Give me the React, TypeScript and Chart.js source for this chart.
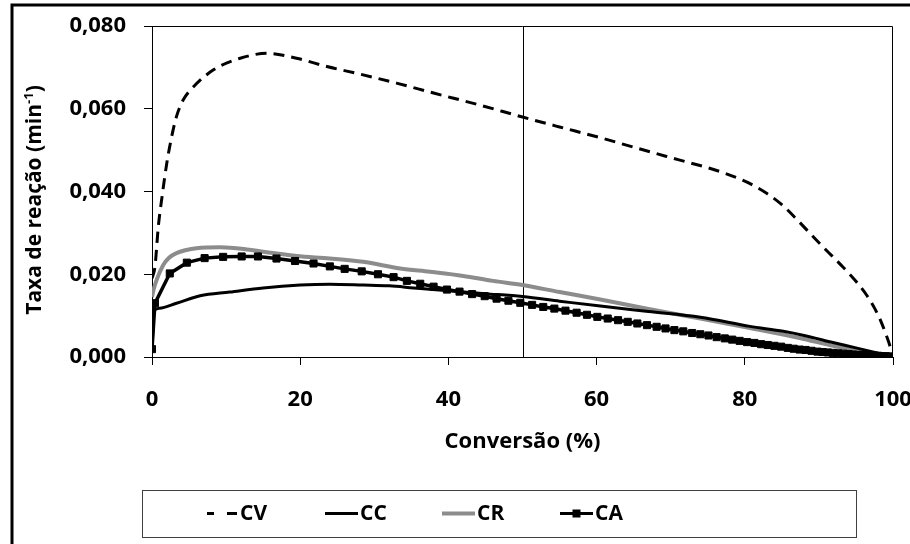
import React, { useEffect, useRef } from "react";
import { Chart, registerables } from "chart.js";

Chart.register(...registerables);

const FONT = "'Open Sans', Lato, sans-serif";

// Taxa de reação vs conversão for the four samples
const cvConv = [0, 0.4, 0.85, 1.3, 2.0, 2.65, 3.3, 4.2, 5.6, 8.3, 11.9, 15.5, 19.5, 23.6, 28, 33, 38, 44, 50, 55, 60.5, 66, 71, 76, 80, 83, 85, 87, 89, 91, 93, 95, 96.5, 97.6, 98.4, 99.1, 99.6, 100];
const cvRate = [0.019, 0.0218, 0.0315, 0.038, 0.0469, 0.0532, 0.0581, 0.0621, 0.0653, 0.0694, 0.0722, 0.0734, 0.0722, 0.0702, 0.0684, 0.0662, 0.0638, 0.061, 0.058, 0.0556, 0.053, 0.0502, 0.0477, 0.0452, 0.0425, 0.0395, 0.0368, 0.0333, 0.0295, 0.0258, 0.0222, 0.0183, 0.0148, 0.0115, 0.0085, 0.0052, 0.0026, 0.0];

const ccConv = [0, 0.3, 1, 3.3, 6.5, 10.5, 15, 20, 24, 28.5, 32, 35.3, 40, 45, 50, 55, 60.5, 67, 74, 80.7, 85.2, 88, 91.9, 95, 98, 100];
const ccRate = [0.002, 0.0112, 0.0118, 0.013, 0.0148, 0.0157, 0.0167, 0.0174, 0.0176, 0.0174, 0.0172, 0.0167, 0.016, 0.0153, 0.0146, 0.0135, 0.0123, 0.011, 0.0096, 0.0074, 0.0062, 0.0052, 0.0035, 0.0022, 0.0009, 0.0];

const crConv = [0, 0.2, 0.7, 1.5, 2.3, 3.3, 4.5, 6, 9.2, 12.8, 16, 19.5, 24, 28.5, 33.5, 37.5, 42, 46, 50, 55, 60.5, 67, 74, 80.7, 87.4, 91.9, 95, 98, 100];
const crRate = [0.0145, 0.0162, 0.019, 0.0222, 0.024, 0.0251, 0.0258, 0.0263, 0.0265, 0.026, 0.0252, 0.0244, 0.0238, 0.023, 0.0214, 0.0206, 0.0196, 0.0184, 0.0174, 0.0157, 0.0139, 0.0116, 0.0093, 0.007, 0.0046, 0.0027, 0.0016, 0.0006, 0.0];

const caConv = [0, 0.4, 2.4, 4.7, 7.1, 9.6, 12.1, 14.3, 16.8, 19.3, 21.8, 24.0, 26.0, 28.3, 30.5, 32.6, 34.4, 36.2, 38.0, 39.8, 41.5, 43.2, 44.9, 46.5, 48.1, 49.7, 51.3, 52.8, 54.3, 55.8, 57.3, 58.7, 60.1, 61.5, 62.9, 64.2, 65.5, 66.8, 68.1, 69.3, 70.5, 71.7, 72.9, 74.0, 75.1, 76.2, 77.3, 78.3, 79.3, 80.3, 81.3, 82.2, 83.1, 84.0, 84.9, 85.8, 86.6, 87.4, 88.2, 89.0, 89.8, 90.5, 91.2, 91.9, 92.6, 93.3, 94.0, 94.6, 95.2, 95.8, 96.4, 97.0, 97.5, 98.0, 98.5, 99.0, 99.4, 99.8, 100];
const caRate = [0.0019, 0.013, 0.0202, 0.0228, 0.0239, 0.0242, 0.0243, 0.0243, 0.0238, 0.0232, 0.0226, 0.0219, 0.0213, 0.0207, 0.02, 0.0193, 0.0184, 0.0177, 0.017, 0.0163, 0.0158, 0.0152, 0.0147, 0.0141, 0.0136, 0.0131, 0.0126, 0.0121, 0.0117, 0.0112, 0.0107, 0.0102, 0.0097, 0.0093, 0.0089, 0.0085, 0.0081, 0.0077, 0.0073, 0.0069, 0.0065, 0.0062, 0.0058, 0.0055, 0.0052, 0.0048, 0.0045, 0.0042, 0.0039, 0.0036, 0.0034, 0.0031, 0.0029, 0.0027, 0.0025, 0.0022, 0.002, 0.0018, 0.0017, 0.0015, 0.0013, 0.0012, 0.0011, 0.001, 0.0009, 0.0008, 0.0007, 0.0006, 0.0005, 0.0005, 0.0004, 0.0004, 0.0003, 0.0003, 0.0002, 0.0002, 0.0001, 0.0001, 0.0];

const seriesNames = ["CV", "CC", "CR", "CA"];
const xTitle = "Conversão (%)";
const yTitleMain = "Taxa de reação (min";
const yTitleSup = "-1";
const yTitleEnd = ")";
const markLine = 50;

const pts = (xs: number[], ys: number[]) => xs.map((x, i) => ({ x, y: ys[i] }));

const GRAY = "#8c8c8c";

const decorPlugin = {
  id: "decor",
  beforeDraw(chart: any) {
    const { ctx, width, height } = chart;
    ctx.save();
    ctx.fillStyle = "#ffffff";
    ctx.fillRect(0, 0, width, height);
    // outer frame
    ctx.strokeStyle = "#000";
    ctx.lineWidth = 3;
    ctx.beginPath();
    ctx.moveTo(12, height);
    ctx.lineTo(12, 5);
    ctx.lineTo(width, 5);
    ctx.stroke();
    ctx.restore();
  },
  beforeDatasetsDraw(chart: any) {
    const { ctx, chartArea, scales } = chart;
    ctx.save();
    ctx.strokeStyle = "#000";
    ctx.lineWidth = 1;
    // plot area top / right edges
    ctx.beginPath();
    ctx.moveTo(chartArea.left, chartArea.top + 0.5);
    ctx.lineTo(chartArea.right - 0.5, chartArea.top + 0.5);
    ctx.lineTo(chartArea.right - 0.5, chartArea.bottom);
    ctx.stroke();
    // reference line at 50 %
    const xm = Math.round(scales.x.getPixelForValue(markLine)) + 0.5;
    ctx.beginPath();
    ctx.moveTo(xm, chartArea.top);
    ctx.lineTo(xm, chartArea.bottom);
    ctx.stroke();
    ctx.restore();
  },
  afterDraw(chart: any) {
    const { ctx, chartArea } = chart;
    ctx.save();
    ctx.fillStyle = "#000";
    ctx.textBaseline = "middle";

    // x title
    ctx.font = `bold 22px ${FONT}`;
    ctx.textAlign = "center";
    ctx.fillText(xTitle, (chartArea.left + chartArea.right) / 2, 442);

    // y title with superscript
    ctx.save();
    ctx.translate(35, 200);
    ctx.rotate(-Math.PI / 2);
    ctx.textAlign = "left";
    const mainFont = `bold 21px ${FONT}`;
    const supFont = `bold 13px ${FONT}`;
    ctx.font = mainFont;
    const wMain = ctx.measureText(yTitleMain).width;
    const wEnd = ctx.measureText(yTitleEnd).width;
    ctx.font = supFont;
    const wSup = ctx.measureText(yTitleSup).width;
    let x0 = -(wMain + wSup + wEnd) / 2;
    ctx.font = mainFont;
    ctx.fillText(yTitleMain, x0, 0);
    x0 += wMain;
    ctx.font = supFont;
    ctx.fillText(yTitleSup, x0, -6);
    x0 += wSup;
    ctx.font = mainFont;
    ctx.fillText(yTitleEnd, x0, 0);
    ctx.restore();

    // legend box
    ctx.strokeStyle = "#404040";
    ctx.lineWidth = 1;
    ctx.strokeRect(142.5, 490.5, 714, 47);
    const ly = 513.5;
    ctx.font = `bold 21px ${FONT}`;
    ctx.textAlign = "left";
    const items = [
      { x0: 207, x1: 237, tx: 240, color: "#000", w: 3, dash: [7, 13, 10, 0], marker: false },
      { x0: 325, x1: 358, tx: 360, color: "#000", w: 3, dash: [], marker: false },
      { x0: 442, x1: 475, tx: 477, color: GRAY, w: 4, dash: [], marker: false },
      { x0: 560, x1: 593, tx: 595, color: "#000", w: 3, dash: [], marker: true },
    ];
    items.forEach((it, i) => {
      ctx.strokeStyle = it.color;
      ctx.lineWidth = it.w;
      ctx.setLineDash(it.dash);
      ctx.beginPath();
      ctx.moveTo(it.x0, ly);
      ctx.lineTo(it.x1, ly);
      ctx.stroke();
      ctx.setLineDash([]);
      if (it.marker) {
        ctx.fillStyle = "#000";
        ctx.fillRect((it.x0 + it.x1) / 2 - 4, ly - 4, 8, 8);
      }
      ctx.fillStyle = "#000";
      ctx.fillText(seriesNames[i], it.tx, ly + 1);
    });
    ctx.restore();
  },
};

export default function App() {
  const canvasRef = useRef<HTMLCanvasElement | null>(null);

  useEffect(() => {
    const canvas = canvasRef.current;
    if (!canvas) return;
    const chart = new Chart(canvas, {
      type: "line",
      data: {
        datasets: [
          {
            label: seriesNames[0],
            data: pts(cvConv, cvRate),
            borderColor: "#000",
            borderWidth: 3,
            borderDash: [11, 7],
            pointRadius: 0,
            cubicInterpolationMode: "monotone",
            order: 3,
          },
          {
            label: seriesNames[1],
            data: pts(ccConv, ccRate),
            borderColor: "#000",
            borderWidth: 3,
            pointRadius: 0,
            cubicInterpolationMode: "monotone",
            order: 1,
          },
          {
            label: seriesNames[2],
            data: pts(crConv, crRate),
            borderColor: GRAY,
            borderWidth: 4,
            pointRadius: 0,
            cubicInterpolationMode: "monotone",
            order: 2,
          },
          {
            label: seriesNames[3],
            data: pts(caConv, caRate),
            borderColor: "#000",
            borderWidth: 3.5,
            pointStyle: "rect",
            pointRadius: 5,
            pointBackgroundColor: "#000",
            pointBorderColor: "#000",
            pointBorderWidth: 1,
            order: 0,
          },
        ],
      },
      options: {
        responsive: false,
        animation: false,
        layout: { padding: { left: 0, top: 26, right: 17, bottom: 0 } },
        plugins: {
          legend: { display: false },
          tooltip: { enabled: false },
        },
        scales: {
          x: {
            type: "linear",
            min: 0,
            max: 100,
            ticks: {
              stepSize: 20,
              color: "#000",
              padding: 22,
              font: { family: FONT, size: 22, weight: "bold" },
            },
            grid: { drawOnChartArea: false, drawTicks: true, tickLength: 8, color: "#000" },
            border: { display: true, color: "#000", width: 1 },
            afterFit: (s: any) => {
              s.height = 187;
              s.paddingLeft = 0;
              s.paddingRight = 0;
            },
          },
          y: {
            min: 0,
            max: 0.08,
            ticks: {
              stepSize: 0.02,
              color: "#000",
              padding: 18,
              font: { family: FONT, size: 22, weight: "bold" },
              callback: (v: any) => Number(v).toFixed(3).replace(".", ","),
            },
            grid: { drawOnChartArea: false, drawTicks: true, tickLength: 8, color: "#000" },
            border: { display: true, color: "#000", width: 1 },
            afterFit: (s: any) => {
              s.width = 152;
              s.paddingTop = 0;
              s.paddingBottom = 0;
            },
          },
        },
      },
      plugins: [decorPlugin],
    });
    return () => chart.destroy();
  }, []);

  return (
    <div style={{ position: "fixed", left: 0, top: 0, width: 910, height: 544, background: "#fff" }}>
      <canvas ref={canvasRef} width={910} height={544} style={{ display: "block" }} />
    </div>
  );
}
